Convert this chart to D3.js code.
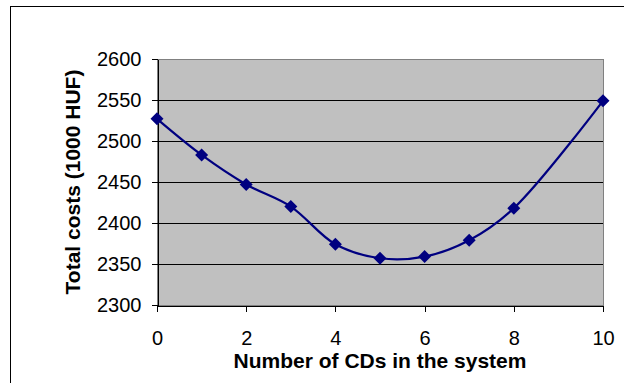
<html>
<head>
  <title>Total costs vs number of CDs</title>
  <style>
    body { margin: 0; background: white; }
    svg { display: block; }
    .tick text { font: 20px "Liberation Sans", Arial, sans-serif; fill: black; }
    .axis path, .axis line { stroke: black; shape-rendering: crispEdges; }
    .title { font: bold 21px "Liberation Sans", Arial, sans-serif; fill: black; }
  </style>
  <script src="https://cdn.jsdelivr.net/npm/d3@7"></script>
</head>
<body>
<div id="chart"></div>
<script>
  // data
  var cds = [0, 1, 2, 3, 4, 5, 6, 7, 8, 10];
  var costs = [2527, 2483, 2447, 2420, 2374, 2357, 2359, 2379, 2418, 2549];
  var yTicks = [2300, 2350, 2400, 2450, 2500, 2550, 2600];
  var xTicks = [0, 2, 4, 6, 8, 10];

  var W = 624, H = 383;
  var plot = { left: 157, top: 59, right: 603, bottom: 305 };

  var svg = d3.select('#chart').append('svg')
      .attr('width', W)
      .attr('height', H);

  // outer chart frame (runs off the right and bottom edge)
  svg.append('rect')
      .attr('x', 10.5).attr('y', 6.5)
      .attr('width', W).attr('height', H)
      .attr('fill', 'white')
      .attr('stroke', 'black');

  var x = d3.scaleLinear().domain([0, 10]).range([plot.left, plot.right]);
  var y = d3.scaleLinear().domain([2300, 2600]).range([plot.bottom, plot.top]);

  // plot area
  svg.append('rect')
      .attr('x', plot.left + 0.5).attr('y', plot.top + 0.5)
      .attr('width', plot.right - plot.left)
      .attr('height', plot.bottom - plot.top)
      .attr('fill', '#c0c0c0')
      .attr('stroke', '#808080')
      .attr('shape-rendering', 'crispEdges');

  // horizontal gridlines
  svg.append('g').selectAll('line')
      .data(yTicks.slice(1, -1))
    .enter().append('line')
      .attr('x1', plot.left).attr('x2', plot.right)
      .attr('y1', function(d) { return Math.round(y(d)) + 0.5; })
      .attr('y2', function(d) { return Math.round(y(d)) + 0.5; })
      .attr('stroke', 'black')
      .attr('shape-rendering', 'crispEdges');

  svg.append('g')
      .attr('class', 'axis')
      .attr('transform', 'translate(' + (plot.left + 0.5) + ',0)')
      .call(d3.axisLeft(y).tickValues(yTicks).tickFormat(d3.format('d'))
          .tickSize(6).tickPadding(10).tickSizeOuter(0));

  svg.append('g')
      .attr('class', 'axis')
      .attr('transform', 'translate(0,' + (plot.bottom + 0.5) + ')')
      .call(d3.axisBottom(x).tickValues(xTicks).tickFormat(d3.format('d'))
          .tickSize(6).tickPadding(19).tickSizeOuter(0));

  // curve + markers
  var pts = cds.map(function(c, i) { return [c, costs[i]]; });

  svg.append('path')
      .datum(pts)
      .attr('fill', 'none')
      .attr('stroke', '#000080')
      .attr('stroke-width', 2.2)
      .attr('d', d3.line()
          .x(function(d) { return x(d[0]); })
          .y(function(d) { return y(d[1]); })
          .curve(d3.curveCatmullRom.alpha(0.5)));

  svg.append('g').selectAll('path')
      .data(pts)
    .enter().append('path')
      .attr('transform', function(d) { return 'translate(' + x(d[0]) + ',' + y(d[1]) + ')'; })
      .attr('d', 'M0,-6.5L6.5,0L0,6.5L-6.5,0Z')
      .attr('fill', '#000080');

  // axis titles
  svg.append('text')
      .attr('class', 'title')
      .attr('x', (plot.left + plot.right) / 2).attr('y', 368)
      .attr('text-anchor', 'middle')
      .text('Number of CDs in the system');

  svg.append('text')
      .attr('class', 'title')
      .attr('transform', 'translate(80,' + ((plot.top + plot.bottom) / 2) + ') rotate(-90)')
      .attr('text-anchor', 'middle')
      .text('Total costs (1000 HUF)');
</script>
</body>
</html>
